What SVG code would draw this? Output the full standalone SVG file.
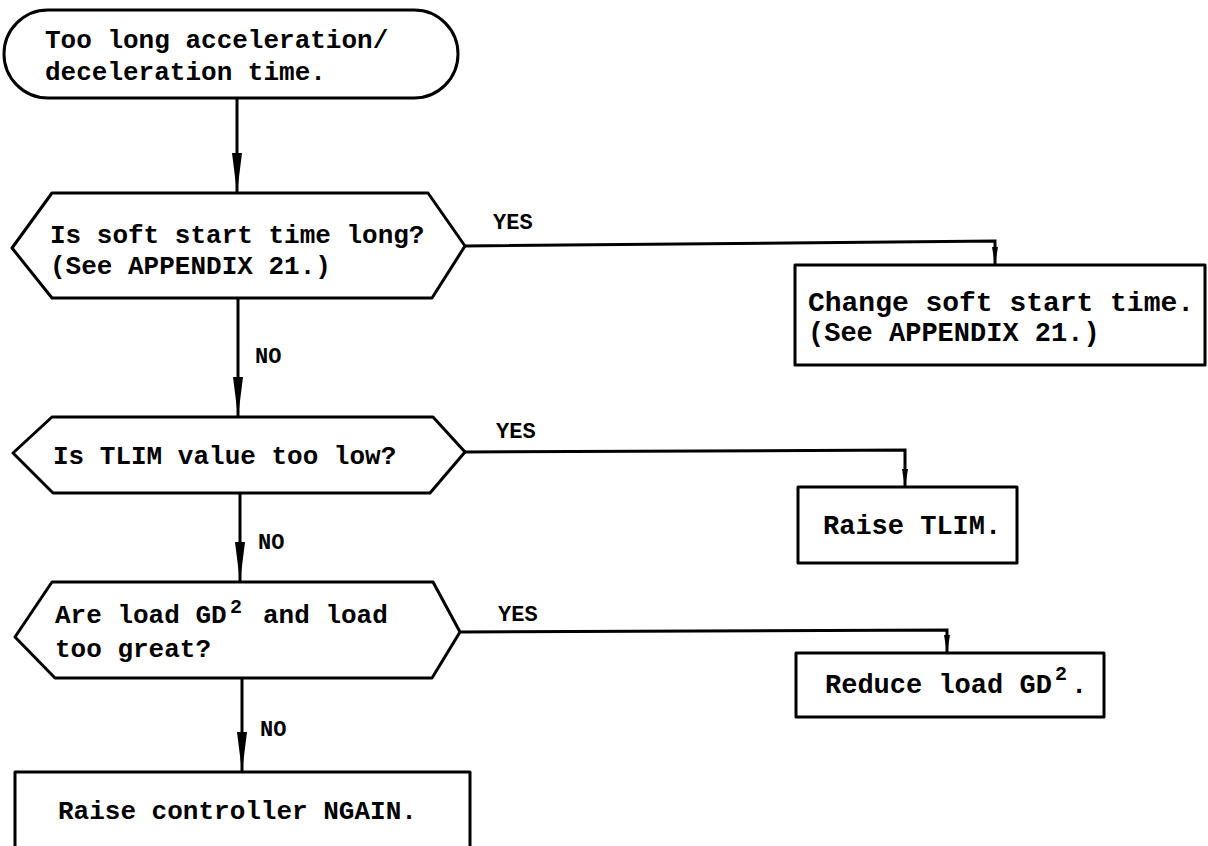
<svg xmlns="http://www.w3.org/2000/svg" width="1208" height="846" viewBox="0 0 1208 846">
  <style>
    .shape { fill: #ffffff; stroke: #000000; stroke-width: 3; stroke-linejoin: round; }
    .wire { fill: none; stroke: #000000; stroke-width: 3; }
    .txt { font-family: "Liberation Mono", "Courier New", monospace; font-weight: bold; font-size: 26px; fill: #000000; }
    .txt-r { font-family: "Liberation Mono", "Courier New", monospace; font-weight: bold; font-size: 27px; fill: #000000; }
    .lbl { font-family: "Liberation Mono", "Courier New", monospace; font-weight: bold; font-size: 22px; fill: #000000; }
    .sup { font-size: 20px; }
  </style>
  <defs>
    <!-- long slim arrowhead for the main vertical flow -->
    <marker id="arrowMain" markerUnits="userSpaceOnUse" markerWidth="40" markerHeight="12" viewBox="0 0 40 12" refX="40" refY="6" orient="auto">
      <path d="M0,1 L40,6 L0,11 Z" fill="#000000"/>
    </marker>
    <!-- short arrowhead for the YES branches -->
    <marker id="arrowSide" markerUnits="userSpaceOnUse" markerWidth="18" markerHeight="8" viewBox="0 0 18 8" refX="18" refY="4" orient="auto">
      <path d="M0,1 L18,4 L0,7 Z" fill="#000000"/>
    </marker>
  </defs>

  <!-- connectors -->
  <g id="connectors">
    <line class="wire" x1="237" y1="98" x2="237" y2="193" marker-end="url(#arrowMain)"/>
    <line class="wire" x1="238" y1="298" x2="238" y2="417" marker-end="url(#arrowMain)"/>
    <line class="wire" x1="240" y1="493" x2="240" y2="582" marker-end="url(#arrowMain)"/>
    <line class="wire" x1="242" y1="678" x2="242" y2="772" marker-end="url(#arrowMain)"/>

    <polyline class="wire" points="465,246 995,241 995,265" marker-end="url(#arrowSide)"/>
    <polyline class="wire" points="465,452 905,450 905,487" marker-end="url(#arrowSide)"/>
    <polyline class="wire" points="460,632 947,630 947,653" marker-end="url(#arrowSide)"/>

    <text class="lbl" x="493" y="229">YES</text>
    <text class="lbl" x="255" y="363">NO</text>
    <text class="lbl" x="496" y="438">YES</text>
    <text class="lbl" x="258" y="549">NO</text>
    <text class="lbl" x="498" y="621">YES</text>
    <text class="lbl" x="260" y="736">NO</text>
  </g>

  <!-- start terminal -->
  <g id="start">
    <rect class="shape" x="4" y="10" width="454" height="88" rx="44" ry="44"/>
    <text class="txt" x="45" y="48">Too long acceleration/</text>
    <text class="txt" x="45" y="80">deceleration time.</text>
  </g>

  <!-- decision: soft start time -->
  <g id="q-softstart">
    <polygon class="shape" points="12,248 52,193 428,193 465,246 432,298 52,298"/>
    <text class="txt" x="50" y="243">Is soft start time long?</text>
    <text class="txt" x="50" y="274">(See APPENDIX 21.)</text>
  </g>

  <!-- action: change soft start time -->
  <g id="a-softstart">
    <rect class="shape" x="795" y="265" width="410" height="100"/>
    <text class="txt-r" x="808" y="311" textLength="386" lengthAdjust="spacingAndGlyphs">Change soft start time.</text>
    <text class="txt-r" x="808" y="341">(See APPENDIX 21.)</text>
  </g>

  <!-- decision: TLIM -->
  <g id="q-tlim">
    <polygon class="shape" points="13,453 52,417 433,417 465,452 430,493 53,493"/>
    <text class="txt" x="53" y="464">Is TLIM value too low?</text>
  </g>

  <!-- action: raise TLIM -->
  <g id="a-tlim">
    <rect class="shape" x="798" y="487" width="219" height="76"/>
    <text class="txt-r" x="823" y="534">Raise TLIM.</text>
  </g>

  <!-- decision: load GD2 -->
  <g id="q-load">
    <polygon class="shape" points="15,637 52,582 433,582 460,632 432,678 55,678"/>
    <text class="txt" x="55" y="623">Are load GD<tspan class="sup" x="230" y="613">2</tspan><tspan x="263" y="623">and load</tspan></text>
    <text class="txt" x="55" y="657">too great?</text>
  </g>

  <!-- action: reduce load GD2 -->
  <g id="a-load">
    <rect class="shape" x="796" y="653" width="308" height="64"/>
    <text class="txt-r" x="825" y="693">Reduce load GD<tspan class="sup" x="1055" y="680">2</tspan><tspan x="1071" y="693">.</tspan></text>
  </g>

  <!-- final action -->
  <g id="a-ngain">
    <rect class="shape" x="15" y="772" width="455" height="80"/>
    <text class="txt" x="58" y="819">Raise controller NGAIN.</text>
  </g>
</svg>
